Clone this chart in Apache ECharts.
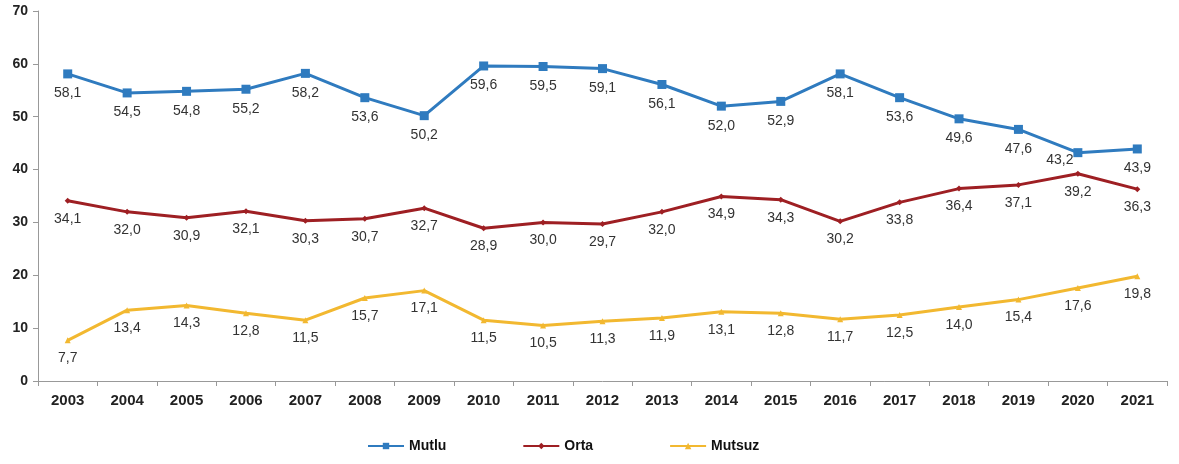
<!DOCTYPE html>
<html><head><meta charset="utf-8">
<script src="https://cdn.jsdelivr.net/npm/echarts@6/dist/echarts.min.js"></script>
<style>html,body{margin:0;padding:0;background:#fff}#c{width:1179px;height:464px}</style>
</head><body><div id="c"></div>
<script>
const years = ['2003','2004','2005','2006','2007','2008','2009','2010','2011','2012','2013','2014','2015','2016','2017','2018','2019','2020','2021'];
const mutlu = [58.1,54.5,54.8,55.2,58.2,53.6,50.2,59.6,59.5,59.1,56.1,52.0,52.9,58.1,53.6,49.6,47.6,43.2,43.9];
const orta = [34.1,32.0,30.9,32.1,30.3,30.7,32.7,28.9,30.0,29.7,32.0,34.9,34.3,30.2,33.8,36.4,37.1,39.2,36.3];
const mutsuz = [7.7,13.4,14.3,12.8,11.5,15.7,17.1,11.5,10.5,11.3,11.9,13.1,12.8,11.7,12.5,14.0,15.4,17.6,19.8];

const fmt = p => p.value.toFixed(1).replace('.', ',');
const lbl = {show:true, position:'bottom', distance:8, color:'#333', fontSize:14, fontFamily:'Liberation Sans, Arial, sans-serif', formatter:fmt};
function mk(name, data, color, symbol, size){
  return {name, type:'line', data: data.map((v,i)=>{
      const o={value:v};
      if(name==='Mutlu' && i===17) o.label={position:'bottom', offset:[-18,-12]};
      return o;}),
    symbol, symbolSize:size, lineStyle:{color, width:3}, itemStyle:{color},
    label:lbl, animation:false};
}
const chart = echarts.init(document.getElementById('c'));
chart.setOption({
  animation:false,
  grid:{left:38, right:12, top:11, bottom:83},
  xAxis:{type:'category', data:years, boundaryGap:true,
    axisLine:{lineStyle:{color:'#999'}}, axisTick:{show:true, length:5, lineStyle:{color:'#999'}},
    axisLabel:{color:'#222', fontWeight:'bold', fontSize:15, margin:12, fontFamily:'Liberation Sans, Arial, sans-serif'}},
  yAxis:{type:'value', min:0, max:70, interval:10,
    axisLine:{show:true, lineStyle:{color:'#999'}}, axisTick:{show:true, length:5, inside:false, lineStyle:{color:'#999'}},
    splitLine:{show:false},
    axisLabel:{color:'#222', fontWeight:'bold', fontSize:14, margin:10, fontFamily:'Liberation Sans, Arial, sans-serif'}},
  legend:{bottom:6, left:362, itemGap:76, itemWidth:36, itemHeight:8,
    textStyle:{color:'#111', fontWeight:'bold', fontSize:14, fontFamily:'Liberation Sans, Arial, sans-serif'},
    data:['Mutlu','Orta','Mutsuz']},
  series:[
    mk('Mutlu', mutlu, '#2F7BBF', 'rect', 9),
    mk('Orta', orta, '#9E1F23', 'diamond', 6),
    mk('Mutsuz', mutsuz, '#F2B830', 'triangle', 6)
  ]
});
</script></body></html>
